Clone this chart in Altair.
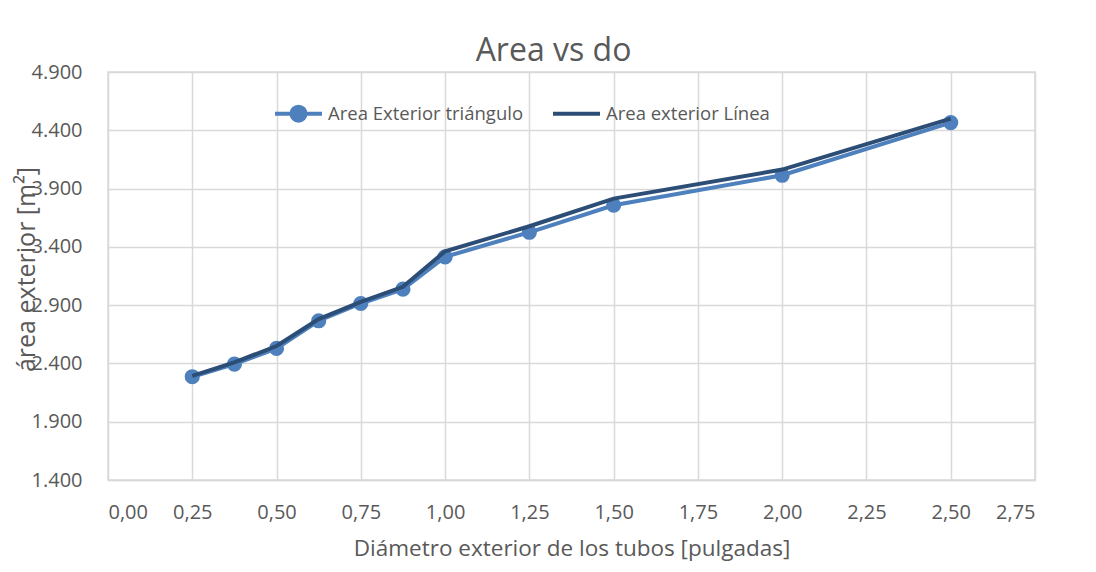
import altair as alt
import pandas as pd

diametro = [0.25, 0.375, 0.5, 0.625, 0.75, 0.875, 1.0, 1.25, 1.5, 2.0, 2.5]
area_triangulo = [2.286, 2.394, 2.529, 2.766, 2.914, 3.037, 3.314, 3.525, 3.757, 4.014, 4.466]
area_linea = [2.294, 2.409, 2.549, 2.780, 2.928, 3.057, 3.362, 3.577, 3.814, 4.063, 4.500]
series = ["Area Exterior triángulo", "Area exterior Línea"]
colores = ["#4E80BD", "#2C4D75"]
x_ticks = [0, 0.25, 0.5, 0.75, 1.0, 1.25, 1.5, 1.75, 2.0, 2.25, 2.5, 2.75]
y_ticks = [1.4, 1.9, 2.4, 2.9, 3.4, 3.9, 4.4, 4.9]

rows = []
for s, vals in zip(series, [area_triangulo, area_linea]):
    for xv, yv in zip(diametro, vals):
        rows.append({"d": xv, "a": yv, "serie": s})
df = pd.DataFrame(rows)

FONT = "Open Sans"
GRAY = "#595959"

x_enc = alt.X("d:Q", scale=alt.Scale(domain=[0, 2.75], nice=False),
              axis=alt.Axis(values=x_ticks, labelExpr="replace(format(datum.value, '.2f'), '.', ',')",
                            title="Diámetro exterior de los tubos [pulgadas]",
                            ticks=False, labelPadding=22, titlePadding=15, titleFontSize=22.5,
                            grid=True, domainColor="#d9d9d9", domainWidth=1.5))
y_enc = alt.Y("a:Q", scale=alt.Scale(domain=[1.4, 4.9], nice=False, zero=False),
              axis=alt.Axis(values=y_ticks, labelExpr="format(datum.value, '.3f')",
                            title="área exterior [m²]", ticks=False, labelPadding=26,
                            titleFontSize=25,
                            domain=False, titleX=-82, titleY=197, titleAlign="center",
                            titleBaseline="middle", titleAngle=270))

color = alt.Color("serie:N", scale=alt.Scale(domain=series, range=colores),
                  legend=alt.Legend(title=None, orient="none", legendX=165, legendY=16,
                                    direction="horizontal", columns=2, columnPadding=21,
                                    symbolStrokeWidth=4, symbolSize=2209, labelOffset=4,
                                    padding=0, labelLimit=0))
shape = alt.Shape("serie:N", scale=alt.Scale(
    domain=series,
    range=["M-1,0L-0.3,0M0.3,0L1,0M-0.3,0A0.3,0.3,0,1,1,0.3,0A0.3,0.3,0,1,1,-0.3,0Z",
           "M0,-0.3M0,0.3M-1,0L1,0"]), legend=alt.Legend(title=None))

base = alt.Chart(df)
line_tri = base.transform_filter(alt.datum.serie == series[0]).mark_line(strokeWidth=4).encode(
    x=x_enc, y=y_enc, color=color)
pts = base.transform_filter(alt.datum.serie == series[0]).mark_point(
    filled=True, size=230, shape="circle", opacity=1).encode(
    x="d:Q", y="a:Q", color=color)
leg = base.mark_point(filled=True, opacity=0, strokeOpacity=0).encode(
    x="d:Q", y="a:Q", color=color, shape=shape)
line_lin = base.transform_filter(alt.datum.serie == series[1]).mark_line(strokeWidth=4).encode(
    x="d:Q", y="a:Q", color=color)

chart = alt.layer(line_tri, pts, leg, line_lin).properties(
    width=927, height=408,
    title=alt.TitleParams("Area vs do", fontSize=32, font=FONT, color=GRAY, fontWeight="normal",
                          frame="group", dx=-18, dy=31, offset=0, baseline="alphabetic"),
    autosize=alt.AutoSizeParams(type="none"),
    padding={"left": 100, "top": 64, "right": 53, "bottom": 84},
).configure_axis(
    labelFont=FONT, labelFontSize=20, labelColor=GRAY,
    titleFont=FONT, titleColor=GRAY, titleFontWeight="normal",
    gridColor="#d9d9d9", gridWidth=1.5,
).configure_legend(
    labelFont=FONT, labelFontSize=18.5, labelColor=GRAY,
).configure_view(stroke="#d9d9d9", strokeWidth=1.5)

chart.save("out.html", embed_options={"renderer": "svg", "actions": False})
